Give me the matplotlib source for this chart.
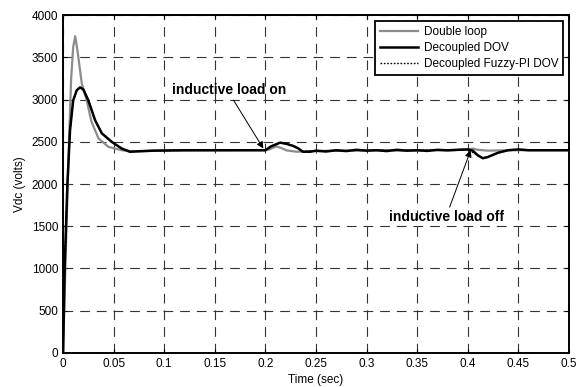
import matplotlib
matplotlib.use("Agg")
import matplotlib.pyplot as plt

plt.rcParams['font.family'] = ['Liberation Sans', 'DejaVu Sans']
plt.rcParams['lines.scale_dashes'] = False

# Double loop (gray)
t_dl = [0, 0.002, 0.004, 0.006, 0.008, 0.010, 0.012, 0.014, 0.0185, 0.0234, 0.028, 0.035,
        0.0448, 0.058, 0.071, 0.09, 0.12, 0.15, 0.18, 0.2, 0.204, 0.211, 0.216, 0.221, 0.231,
        0.25, 0.28, 0.31, 0.34, 0.37, 0.4, 0.405, 0.41, 0.42, 0.44, 0.47, 0.5]
v_dl = [0, 900, 1750, 2550, 3250, 3620, 3750, 3600, 3190, 2990, 2740, 2540,
        2440, 2400, 2385, 2395, 2400, 2400, 2400, 2400, 2410, 2446, 2425, 2398, 2382,
        2390, 2395, 2400, 2395, 2400, 2405, 2420, 2405, 2395, 2400, 2400, 2400]

# Decoupled DOV (black)
t_dov = [0, 0.0016, 0.0043, 0.0069, 0.010, 0.0135, 0.0168, 0.020, 0.025, 0.0316, 0.0383,
         0.048, 0.058, 0.066, 0.075, 0.09, 0.12, 0.15, 0.18, 0.2, 0.2055, 0.2146, 0.221,
         0.2277, 0.2325, 0.237, 0.244, 0.25, 0.26, 0.27, 0.28, 0.29, 0.30, 0.31, 0.32, 0.33,
         0.34, 0.35, 0.36, 0.37, 0.38, 0.39, 0.40, 0.405, 0.41, 0.415, 0.42, 0.43, 0.44,
         0.45, 0.46, 0.48, 0.5]
v_dov = [0, 1020, 2010, 2640, 2990, 3110, 3144, 3120, 2990, 2757, 2600,
         2500, 2420, 2382, 2388, 2395, 2400, 2400, 2400, 2400, 2445, 2490, 2475,
         2450, 2422, 2382, 2382, 2395, 2385, 2400, 2390, 2405, 2395, 2400, 2390, 2405,
         2395, 2400, 2392, 2405, 2398, 2405, 2410, 2395, 2340, 2305, 2320, 2370, 2400,
         2410, 2400, 2400, 2400]

# Decoupled Fuzzy-PI DOV (dotted)
t_fz = [0, 0.0016, 0.0043, 0.0069, 0.010, 0.0135, 0.0168, 0.020, 0.025, 0.0316, 0.0383,
        0.048, 0.058, 0.066, 0.075, 0.09, 0.2, 0.2055, 0.2146, 0.221, 0.2277, 0.2325,
        0.237, 0.25, 0.3, 0.35, 0.40, 0.41, 0.415, 0.42, 0.43, 0.44, 0.45, 0.5]
v_fz = [0, 1020, 2010, 2640, 2990, 3110, 3144, 3120, 2990, 2757, 2600,
        2500, 2420, 2382, 2388, 2395, 2400, 2445, 2488, 2475, 2450, 2420,
        2385, 2395, 2398, 2400, 2408, 2340, 2308, 2320, 2370, 2400, 2408, 2400]

xticks = [0, 0.05, 0.1, 0.15, 0.2, 0.25, 0.3, 0.35, 0.4, 0.45, 0.5]
xtick_labels = ['0', '0.05', '0.1', '0.15', '0.2', '0.25', '0.3', '0.35', '0.4', '0.45', '0.5']
yticks = [0, 500, 1000, 1500, 2000, 2500, 3000, 3500, 4000]

fig = plt.figure(figsize=(5.84, 3.87), dpi=100)
ax = fig.add_axes([0.108, 0.088, 0.866, 0.873])

ax.plot(t_dl, v_dl, color='#8c8c8c', lw=1.6, label='Double loop', zorder=3)
ax.plot(t_dov, v_dov, color='black', lw=1.8, label='Decoupled DOV', zorder=4)
ax.plot(t_fz, v_fz, color='black', lw=1.0, linestyle=(0, (1.2, 1.2)),
        label='Decoupled Fuzzy-PI DOV', zorder=5)

ax.set_xlim(0, 0.5)
ax.set_ylim(0, 4000)
ax.set_xticks(xticks)
ax.set_xticklabels(xtick_labels)
ax.set_yticks(yticks)
ax.tick_params(direction='in', length=3, labelsize=8.5, top=True, right=True, width=0.8)
ax.grid(True, color='0.2', linestyle=(0, (7, 5)), linewidth=0.8)
for s in ax.spines.values():
    s.set_linewidth(1.4)

ax.set_xlabel('Time (sec)', fontsize=8.5, labelpad=3)
ax.set_ylabel('Vdc (volts)', fontsize=8.5, labelpad=4)

leg = ax.legend(loc='upper right', fontsize=8.5, fancybox=False, framealpha=1,
                edgecolor='black', handlelength=3.2, borderaxespad=0.5,
                labelspacing=0.35, handletextpad=0.5)
leg.get_frame().set_linewidth(1.3)

ax.annotate('inductive load on', xy=(0.198, 2420), xytext=(0.108, 3110),
            fontsize=10, fontweight='bold', va='center', ha='left',
            arrowprops=dict(arrowstyle='-|>', color='black', lw=0.7,
                            shrinkA=0, shrinkB=0, relpos=(0.52, 0.0)))
ax.annotate('inductive load off', xy=(0.403, 2400), xytext=(0.322, 1610),
            fontsize=10, fontweight='bold', va='center', ha='left',
            arrowprops=dict(arrowstyle='-|>', color='black', lw=0.7,
                            shrinkA=0, shrinkB=0, relpos=(0.52, 1.0)))

fig.savefig('out.png', dpi=100)
